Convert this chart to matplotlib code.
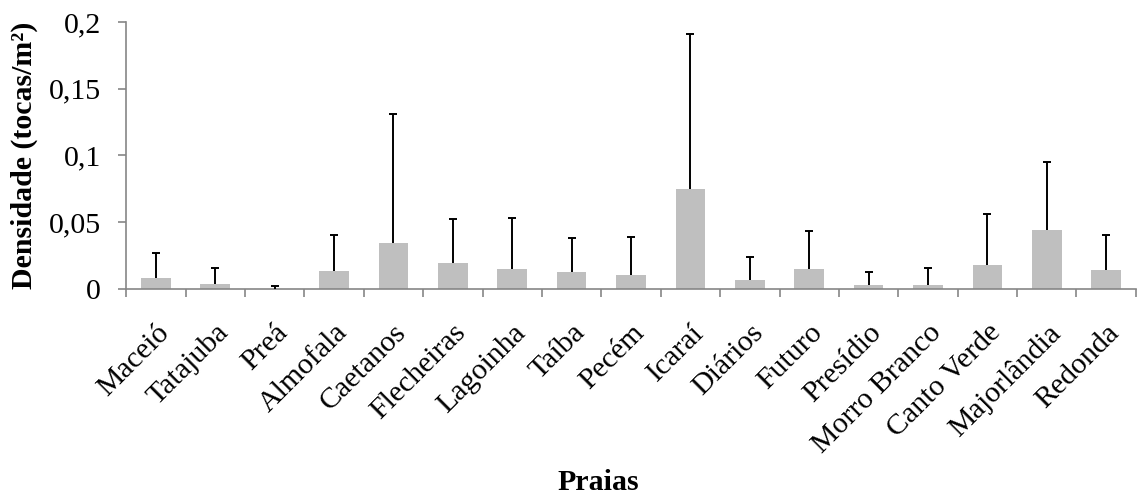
import matplotlib
matplotlib.use("Agg")
import matplotlib.pyplot as plt
import numpy as np

praias = ["Maceió", "Tatajuba", "Preá", "Almofala", "Caetanos", "Flecheiras",
          "Lagoinha", "Taíba", "Pecém", "Icaraí", "Diários", "Futuro",
          "Presídio", "Morro Branco", "Canto Verde", "Majorlândia", "Redonda"]
densidade = [0.008, 0.0038, 0.0003, 0.0133, 0.0345, 0.0195,
             0.015, 0.013, 0.0108, 0.0748, 0.0068, 0.0153,
             0.0028, 0.003, 0.018, 0.044, 0.0143]
desvio = [0.0193, 0.0117, 0.0022, 0.0275, 0.0965, 0.0328,
          0.0378, 0.025, 0.0285, 0.1165, 0.0172, 0.0282,
          0.0102, 0.013, 0.0383, 0.0513, 0.0265]
yticks = [0, 0.05, 0.1, 0.15, 0.2]
ytick_labels = ["0", "0,05", "0,1", "0,15", "0,2"]

plt.rcParams["font.family"] = ["Liberation Serif", "DejaVu Serif"]
FS = 21.5

fig = plt.figure(figsize=(11.37, 4.95), dpi=100)
ax = fig.add_axes([0.111, 0.4162, 0.888, 0.5394])

x = np.arange(len(praias))
ax.bar(x, densidade, width=0.5, color="#BFBFBF", zorder=2)
# one-sided (upper) error bars; hide the cap sitting on the bar top
_, caps, _ = ax.errorbar(x, densidade, yerr=[np.zeros(len(desvio)), desvio], fmt="none",
                         ecolor="black", elinewidth=1.4, capsize=3.2, capthick=1.4, zorder=3)
caps[0].set_visible(False)

ax.set_xlim(-0.5, len(praias) - 0.5)
ax.set_ylim(0, 0.2)
ax.set_yticks(yticks)
ax.set_yticklabels(ytick_labels, fontsize=FS)

ax.set_xticks(x)
ax.set_xticklabels(praias, rotation=45, ha="right", rotation_mode="anchor", fontsize=FS)
ax.tick_params(axis="x", which="major", length=0, pad=22)
ax.set_xticks(np.arange(-0.5, len(praias), 1.0), minor=True)
ax.tick_params(axis="x", which="minor", length=6, width=1.2, color="#868686", direction="out")
ax.tick_params(axis="y", which="major", length=6, width=1.2, color="#868686", direction="out", pad=12)

for side in ("top", "right"):
    ax.spines[side].set_visible(False)
for side in ("left", "bottom"):
    ax.spines[side].set_color("#868686")
    ax.spines[side].set_linewidth(1.2)

ax.set_ylabel("Densidade (tocas/m²)", fontsize=FS, fontweight="bold", labelpad=8)
fig.text(0.526, 0.01, "Praias", fontsize=FS, fontweight="bold", ha="center", va="baseline")

fig.savefig("out.png", dpi=100)
